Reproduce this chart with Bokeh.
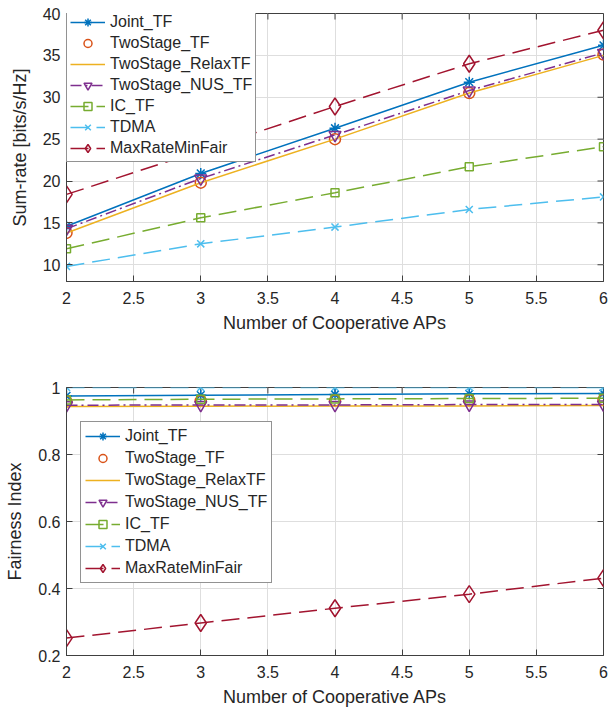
from bokeh.plotting import figure
from bokeh.models import Range1d, FixedTicker, Legend, LegendItem
from bokeh.layouts import column
from bokeh.embed import file_html
from bokeh.resources import INLINE

# ---------------- data ----------------
aps = [2, 3, 4, 5, 6]

sr_joint = [14.6, 20.9, 26.3, 31.8, 36.2]
sr_twostage = [13.8, 19.8, 25.0, 30.5, 35.1]
sr_relax = [13.8, 19.8, 25.0, 30.5, 35.0]
sr_nus = [14.3, 20.3, 25.5, 30.8, 35.3]
sr_ic = [11.9, 15.6, 18.6, 21.7, 24.1]
sr_tdma = [9.8, 12.5, 14.5, 16.6, 18.1]
sr_maxrate = [18.4, 23.6, 28.9, 34.0, 38.0]

fi_joint = [0.975, 0.977, 0.979, 0.981, 0.982]
fi_twostage = [0.958, 0.960, 0.961, 0.962, 0.963]
fi_relax = [0.943, 0.944, 0.945, 0.945, 0.946]
fi_nus = [0.947, 0.948, 0.948, 0.949, 0.949]
fi_ic = [0.963, 0.965, 0.966, 0.967, 0.968]
fi_tdma = [1.0, 1.0, 1.0, 1.0, 1.0]
fi_maxrate = [0.252, 0.297, 0.341, 0.383, 0.431]

names = ["Joint_TF", "TwoStage_TF", "TwoStage_RelaxTF", "TwoStage_NUS_TF",
         "IC_TF", "TDMA", "MaxRateMinFair"]

x_ticks = [2, 2.5, 3, 3.5, 4, 4.5, 5, 5.5, 6]
x_tick_labels = ["2", "2.5", "3", "3.5", "4", "4.5", "5", "5.5", "6"]
sr_ticks = [10, 15, 20, 25, 30, 35, 40]
sr_tick_labels = ["10", "15", "20", "25", "30", "35", "40"]
fi_ticks = [0.2, 0.4, 0.6, 0.8, 1.0]
fi_tick_labels = ["0.2", "0.4", "0.6", "0.8", "1"]

# ---------------- styles ----------------
styles = [
    dict(color="#0072BD", dash="solid", marker="asterisk", size=11, line=True),
    dict(color="#D95319", dash="solid", marker="circle", size=11, line=False),
    dict(color="#EDB120", dash="solid", marker=None, size=0, line=True),
    dict(color="#7E2F8E", dash="11 4 2 4", marker="inverted_triangle", size=12, line=True),
    dict(color="#77AC30", dash="18 8", marker="square", size=8, line=True),
    dict(color="#4DBEEE", dash="18 8", marker="x", size=10, line=True),
    dict(color="#A2142F", dash="18 8", marker="diamond", size=17, line=True),
]

FONT = "Liberation Sans"
TXT = "#262626"
AX = "#404040"


def style_axis(ax, ticks, labels):
    ax.ticker = FixedTicker(ticks=ticks)
    ax.major_label_overrides = {t: l for t, l in zip(ticks, labels)}
    ax.minor_tick_line_color = None
    ax.major_tick_in = 6
    ax.major_tick_out = 0
    ax.axis_line_color = AX
    ax.major_tick_line_color = AX
    ax.major_label_text_font = FONT
    ax.major_label_text_color = TXT
    ax.major_label_text_font_size = "16px"
    ax.axis_label_text_font = FONT
    ax.axis_label_text_color = TXT
    ax.axis_label_text_font_style = "normal"
    ax.axis_label_text_font_size = "18px"


def make_plot(series, ylo, yhi, yticks, ylabels, ylabel, height, top, bottom,
              legend_loc, leg_pad, leg_spacing):
    p = figure(width=608, height=height, output_backend="svg", toolbar_location=None,
               x_range=Range1d(2, 6), y_range=Range1d(ylo, yhi),
               min_border_left=66, min_border_right=5,
               min_border_top=top, min_border_bottom=bottom)
    p.outline_line_color = AX
    p.background_fill_color = "white"
    p.border_fill_color = "white"
    p.xgrid.grid_line_color = "#dedede"
    p.ygrid.grid_line_color = "#dedede"
    p.xgrid.ticker = FixedTicker(ticks=x_ticks)
    p.ygrid.ticker = FixedTicker(ticks=yticks)

    style_axis(p.xaxis[0], x_ticks, x_tick_labels)
    style_axis(p.yaxis[0], yticks, ylabels)
    p.xaxis[0].axis_label = "Number of Cooperative APs"
    p.xaxis[0].major_label_standoff = 10
    p.xaxis[0].axis_label_standoff = 6
    p.yaxis[0].axis_label = ylabel
    p.yaxis[0].major_label_standoff = 6
    p.yaxis[0].axis_label_standoff = 10

    # inward ticks on the top and right edges of the box (MATLAB style)
    p.ray(x=x_ticks, y=[yhi] * len(x_ticks), length=6, length_units="screen",
          angle=-90, angle_units="deg", line_color=AX, line_width=1)
    p.ray(x=[6] * len(yticks), y=yticks, length=6, length_units="screen",
          angle=180, angle_units="deg", line_color=AX, line_width=1)

    items = []
    for name, vals, st in zip(names, series, styles):
        rs = []
        if st["line"]:
            rs.append(p.line(aps, vals, line_color=st["color"], line_width=1.5,
                             line_dash=st["dash"]))
        if st["marker"]:
            rs.append(p.scatter(aps, vals, marker=st["marker"], size=st["size"],
                                line_color=st["color"], fill_color=None, line_width=1.5))
        items.append(LegendItem(label=name, renderers=rs))

    leg = Legend(items=items, location=legend_loc)
    leg.label_text_font = FONT
    leg.label_text_font_size = "16px"
    leg.label_text_color = TXT
    leg.glyph_width = 35
    leg.glyph_height = 20
    leg.label_height = 20
    leg.spacing = leg_spacing
    leg.padding = leg_pad
    leg.margin = 0
    leg.label_standoff = 5
    leg.border_line_color = TXT
    leg.border_line_width = 1
    leg.background_fill_color = "white"
    leg.background_fill_alpha = 1.0
    p.add_layout(leg)
    return p


sr_series = [sr_joint, sr_twostage, sr_relax, sr_nus, sr_ic, sr_tdma, sr_maxrate]
fi_series = [fi_joint, fi_twostage, fi_relax, fi_nus, fi_ic, fi_tdma, fi_maxrate]

p1 = make_plot(sr_series, 8, 40, sr_ticks, sr_tick_labels, "Sum-rate [bits/s/Hz]",
               345, 13, 64, (0, 119), 3, 1)
p2 = make_plot(fi_series, 0.2, 1.0, fi_ticks, fi_tick_labels, "Fairness Index",
               370, 42, 60, (14, 72), 4, 2)

layout = column(p1, p2, spacing=0)
open("out.html", "w").write(file_html(layout, INLINE))
